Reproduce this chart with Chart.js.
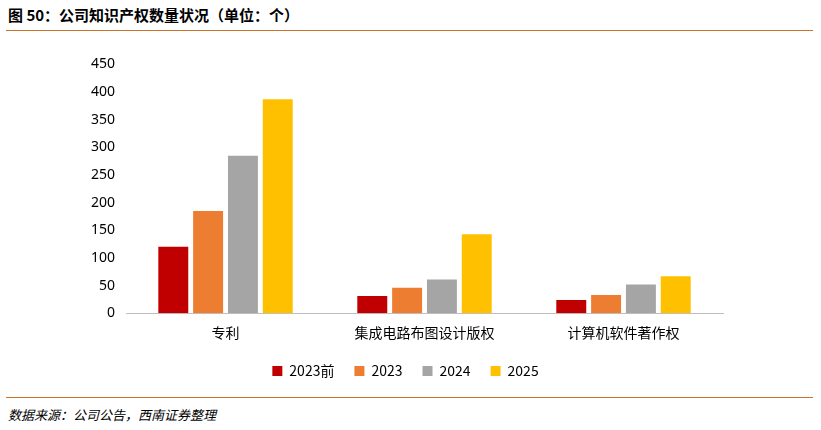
<!DOCTYPE html>
<html>
<head>
<meta charset="utf-8">
<script src="https://cdn.jsdelivr.net/npm/chart.js@4"></script>
<style>
body{margin:0;width:821px;height:430px;background:#fff;font-family:"Noto Sans CJK SC","Noto Sans",sans-serif;position:relative;overflow:hidden}
#title{position:absolute;left:8px;top:4px;font-size:15px;font-weight:bold;color:#000}
#topline{position:absolute;left:6px;right:8px;top:30px;border-top:1.5px solid #C9742C}
#botline{position:absolute;left:6px;right:8px;top:397px;border-top:1.5px solid #C9742C}
#source{position:absolute;left:8px;top:405px;font-size:13px;font-style:italic;color:#000}
#wrap{position:absolute;left:88px;top:53px;width:645px;height:335px}
</style>
</head>
<body>
<div id="title">图 50：公司知识产权数量状况（单位：个）</div>
<div id="topline"></div>
<div id="wrap"><canvas id="canvas"></canvas></div>
<div id="botline"></div>
<div id="source">数据来源：公司公告，西南证券整理</div>
<script>
var categories = ['专利', '集成电路布图设计版权', '计算机软件著作权'];
var seriesNames = ['2023前', '2023', '2024', '2025'];
var values2023Before = [120, 31, 24];
var values2023 = [185, 46, 33];
var values2024 = [285, 61, 52];
var values2025 = [387, 143, 67];
var colors = ['#C00000', '#ED7D31', '#A5A5A5', '#FFC000'];

var allValues = [values2023Before, values2023, values2024, values2025];
var datasets = seriesNames.map(function(name, i) {
  return {
    label: name,
    data: allValues[i],
    backgroundColor: colors[i],
    categoryPercentage: 0.7,
    barPercentage: 0.86
  };
});

var ctx = document.getElementById('canvas').getContext('2d');
new Chart(ctx, {
  type: 'bar',
  data: { labels: categories, datasets: datasets },
  options: {
    responsive: true,
    maintainAspectRatio: false,
    animation: false,
    layout: { padding: { left: 0, right: 10, top: 5, bottom: 0 } },
    plugins: {
      legend: {
        position: 'bottom',
        labels: { boxWidth: 10, boxHeight: 10, padding: 20, color: '#000',
          font: { size: 14, family: '"Noto Sans CJK SC","Noto Sans",sans-serif' } }
      },
      tooltip: { enabled: false }
    },
    scales: {
      x: {
        grid: { display: false },
        border: { color: '#bfbfbf' },
        ticks: { color: '#000', font: { size: 14, family: '"Noto Sans CJK SC",sans-serif' } }
      },
      y: {
        min: 0, max: 450,
        ticks: { stepSize: 50, color: '#000', font: { size: 14, family: '"Noto Sans","Liberation Sans",sans-serif' } },
        grid: { display: false },
        border: { display: false }
      }
    }
  }
});
</script>
</body>
</html>
